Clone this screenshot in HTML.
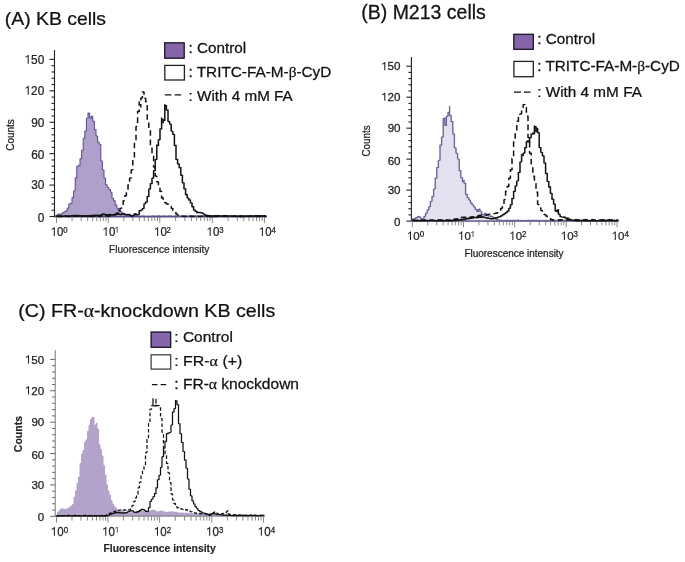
<!DOCTYPE html>
<html><head><meta charset="utf-8"><title>Figure</title><style>
html,body{margin:0;padding:0;background:#fff;}
svg{display:block;will-change:transform;}
text{font-family:"Liberation Sans",sans-serif;}
</style></head><body>
<svg width="685" height="562" viewBox="0 0 685 562">
<rect width="685" height="562" fill="#fff"/>
<text transform="translate(4.79,24.7) scale(1.0150,1)" font-size="19.1" fill="#111" stroke="#111" stroke-width="0.25" >(A) KB cells</text>
<line x1="54.5" y1="50.1" x2="54.5" y2="217" stroke="#222" stroke-width="1.1"/>
<line x1="49.5" y1="216.5" x2="54.5" y2="216.5" stroke="#222" stroke-width="1.1"/>
<text transform="translate(37.64,221.7) scale(0.9550,1)" font-size="12.4" fill="#222" stroke="#222" stroke-width="0.25" >0</text>
<line x1="51.5" y1="210.22" x2="54.5" y2="210.22" stroke="#222" stroke-width="1.1"/>
<line x1="51.5" y1="203.93" x2="54.5" y2="203.93" stroke="#222" stroke-width="1.1"/>
<line x1="51.5" y1="197.65" x2="54.5" y2="197.65" stroke="#222" stroke-width="1.1"/>
<line x1="51.5" y1="191.36" x2="54.5" y2="191.36" stroke="#222" stroke-width="1.1"/>
<line x1="49.5" y1="185.08" x2="54.5" y2="185.08" stroke="#222" stroke-width="1.1"/>
<text transform="translate(31.13,189.48) scale(0.9550,1)" font-size="12.4" fill="#222" stroke="#222" stroke-width="0.25" >30</text>
<line x1="51.5" y1="178.8" x2="54.5" y2="178.8" stroke="#222" stroke-width="1.1"/>
<line x1="51.5" y1="172.51" x2="54.5" y2="172.51" stroke="#222" stroke-width="1.1"/>
<line x1="51.5" y1="166.23" x2="54.5" y2="166.23" stroke="#222" stroke-width="1.1"/>
<line x1="51.5" y1="159.94" x2="54.5" y2="159.94" stroke="#222" stroke-width="1.1"/>
<line x1="49.5" y1="153.66" x2="54.5" y2="153.66" stroke="#222" stroke-width="1.1"/>
<text transform="translate(31.13,159.46) scale(0.9550,1)" font-size="12.4" fill="#222" stroke="#222" stroke-width="0.25" >60</text>
<line x1="51.5" y1="147.38" x2="54.5" y2="147.38" stroke="#222" stroke-width="1.1"/>
<line x1="51.5" y1="141.09" x2="54.5" y2="141.09" stroke="#222" stroke-width="1.1"/>
<line x1="51.5" y1="134.81" x2="54.5" y2="134.81" stroke="#222" stroke-width="1.1"/>
<line x1="51.5" y1="128.52" x2="54.5" y2="128.52" stroke="#222" stroke-width="1.1"/>
<line x1="49.5" y1="122.24" x2="54.5" y2="122.24" stroke="#222" stroke-width="1.1"/>
<text transform="translate(31.13,126.64) scale(0.9550,1)" font-size="12.4" fill="#222" stroke="#222" stroke-width="0.25" >90</text>
<line x1="51.5" y1="115.96" x2="54.5" y2="115.96" stroke="#222" stroke-width="1.1"/>
<line x1="51.5" y1="109.67" x2="54.5" y2="109.67" stroke="#222" stroke-width="1.1"/>
<line x1="51.5" y1="103.39" x2="54.5" y2="103.39" stroke="#222" stroke-width="1.1"/>
<line x1="51.5" y1="97.1" x2="54.5" y2="97.1" stroke="#222" stroke-width="1.1"/>
<line x1="49.5" y1="90.82" x2="54.5" y2="90.82" stroke="#222" stroke-width="1.1"/>
<polygon points="27.65,94.82 28.74,94.82 28.74,85.94 27.93,85.94 27.34,86.58 26.51,87.2 25.5,87.69 25.5,88.81 26.51,88.37 27.65,87.63" fill="#222"/><text transform="translate(31.08,94.82) scale(0.9550,1)" font-size="12.4" fill="#222" stroke="#222" stroke-width="0.25">2</text><text transform="translate(37.67,94.82) scale(0.9550,1)" font-size="12.4" fill="#222" stroke="#222" stroke-width="0.25">0</text>
<line x1="51.5" y1="84.54" x2="54.5" y2="84.54" stroke="#222" stroke-width="1.1"/>
<line x1="51.5" y1="78.25" x2="54.5" y2="78.25" stroke="#222" stroke-width="1.1"/>
<line x1="51.5" y1="71.97" x2="54.5" y2="71.97" stroke="#222" stroke-width="1.1"/>
<line x1="51.5" y1="65.68" x2="54.5" y2="65.68" stroke="#222" stroke-width="1.1"/>
<line x1="49.5" y1="59.4" x2="54.5" y2="59.4" stroke="#222" stroke-width="1.1"/>
<polygon points="27.65,63.8 28.74,63.8 28.74,54.92 27.93,54.92 27.34,55.56 26.51,56.18 25.5,56.67 25.5,57.79 26.51,57.35 27.65,56.61" fill="#222"/><text transform="translate(31.08,63.8) scale(0.9550,1)" font-size="12.4" fill="#222" stroke="#222" stroke-width="0.25">5</text><text transform="translate(37.67,63.8) scale(0.9550,1)" font-size="12.4" fill="#222" stroke="#222" stroke-width="0.25">0</text>
<line x1="54" y1="216.6" x2="267" y2="216.6" stroke="#222" stroke-width="1.1"/>
<line x1="56.5" y1="216.6" x2="56.5" y2="223.1" stroke="#8a8a8a" stroke-width="1"/>
<polygon points="53.76,235.9 54.81,235.9 54.81,227.16 54.03,227.16 53.46,227.79 52.66,228.4 51.68,228.89 51.68,229.98 52.66,229.56 53.76,228.82" fill="#222"/><text transform="translate(57.08,235.9) scale(0.9400,1)" font-size="12.2" fill="#222" stroke="#222" stroke-width="0.25">0</text>
<text transform="translate(63.27,232.66) scale(0.9400,1)" font-size="8.2" fill="#222" stroke="#222" stroke-width="0.25" >0</text>
<line x1="72.09" y1="216.6" x2="72.09" y2="221.1" stroke="#8a8a8a" stroke-width="1"/>
<line x1="81.21" y1="216.6" x2="81.21" y2="221.1" stroke="#8a8a8a" stroke-width="1"/>
<line x1="87.69" y1="216.6" x2="87.69" y2="221.1" stroke="#8a8a8a" stroke-width="1"/>
<line x1="92.71" y1="216.6" x2="92.71" y2="221.1" stroke="#8a8a8a" stroke-width="1"/>
<line x1="96.81" y1="216.6" x2="96.81" y2="221.1" stroke="#8a8a8a" stroke-width="1"/>
<line x1="100.28" y1="216.6" x2="100.28" y2="221.1" stroke="#8a8a8a" stroke-width="1"/>
<line x1="103.28" y1="216.6" x2="103.28" y2="221.1" stroke="#8a8a8a" stroke-width="1"/>
<line x1="105.93" y1="216.6" x2="105.93" y2="221.1" stroke="#8a8a8a" stroke-width="1"/>
<line x1="108.3" y1="216.6" x2="108.3" y2="223.1" stroke="#8a8a8a" stroke-width="1"/>
<polygon points="105.56,235.9 106.61,235.9 106.61,227.16 105.83,227.16 105.26,227.79 104.46,228.4 103.48,228.89 103.48,229.98 104.46,229.56 105.56,228.82" fill="#222"/><text transform="translate(108.88,235.9) scale(0.9400,1)" font-size="12.2" fill="#222" stroke="#222" stroke-width="0.25">0</text>
<polygon points="116.81,232.66 117.52,232.66 117.52,226.79 117,226.79 116.61,227.21 116.07,227.62 115.42,227.94 115.42,228.68 116.07,228.4 116.81,227.9" fill="#222"/>
<line x1="123.8" y1="216.6" x2="123.8" y2="221.1" stroke="#8a8a8a" stroke-width="1"/>
<line x1="132.87" y1="216.6" x2="132.87" y2="221.1" stroke="#8a8a8a" stroke-width="1"/>
<line x1="139.31" y1="216.6" x2="139.31" y2="221.1" stroke="#8a8a8a" stroke-width="1"/>
<line x1="144.3" y1="216.6" x2="144.3" y2="221.1" stroke="#8a8a8a" stroke-width="1"/>
<line x1="148.37" y1="216.6" x2="148.37" y2="221.1" stroke="#8a8a8a" stroke-width="1"/>
<line x1="151.82" y1="216.6" x2="151.82" y2="221.1" stroke="#8a8a8a" stroke-width="1"/>
<line x1="154.81" y1="216.6" x2="154.81" y2="221.1" stroke="#8a8a8a" stroke-width="1"/>
<line x1="157.44" y1="216.6" x2="157.44" y2="221.1" stroke="#8a8a8a" stroke-width="1"/>
<line x1="159.8" y1="216.6" x2="159.8" y2="223.1" stroke="#8a8a8a" stroke-width="1"/>
<polygon points="157.06,235.9 158.11,235.9 158.11,227.16 157.33,227.16 156.76,227.79 155.96,228.4 154.98,228.89 154.98,229.98 155.96,229.56 157.06,228.82" fill="#222"/><text transform="translate(160.38,235.9) scale(0.9400,1)" font-size="12.2" fill="#222" stroke="#222" stroke-width="0.25">0</text>
<text transform="translate(166.49,232.66) scale(0.9400,1)" font-size="8.2" fill="#222" stroke="#222" stroke-width="0.25" >2</text>
<line x1="175.63" y1="216.6" x2="175.63" y2="221.1" stroke="#8a8a8a" stroke-width="1"/>
<line x1="184.9" y1="216.6" x2="184.9" y2="221.1" stroke="#8a8a8a" stroke-width="1"/>
<line x1="191.47" y1="216.6" x2="191.47" y2="221.1" stroke="#8a8a8a" stroke-width="1"/>
<line x1="196.57" y1="216.6" x2="196.57" y2="221.1" stroke="#8a8a8a" stroke-width="1"/>
<line x1="200.73" y1="216.6" x2="200.73" y2="221.1" stroke="#8a8a8a" stroke-width="1"/>
<line x1="204.25" y1="216.6" x2="204.25" y2="221.1" stroke="#8a8a8a" stroke-width="1"/>
<line x1="207.3" y1="216.6" x2="207.3" y2="221.1" stroke="#8a8a8a" stroke-width="1"/>
<line x1="209.99" y1="216.6" x2="209.99" y2="221.1" stroke="#8a8a8a" stroke-width="1"/>
<line x1="212.4" y1="216.6" x2="212.4" y2="223.1" stroke="#8a8a8a" stroke-width="1"/>
<polygon points="209.66,235.9 210.71,235.9 210.71,227.16 209.93,227.16 209.36,227.79 208.56,228.4 207.58,228.89 207.58,229.98 208.56,229.56 209.66,228.82" fill="#222"/><text transform="translate(212.98,235.9) scale(0.9400,1)" font-size="12.2" fill="#222" stroke="#222" stroke-width="0.25">0</text>
<text transform="translate(219.17,232.66) scale(0.9400,1)" font-size="8.2" fill="#222" stroke="#222" stroke-width="0.25" >3</text>
<line x1="228.11" y1="216.6" x2="228.11" y2="221.1" stroke="#8a8a8a" stroke-width="1"/>
<line x1="237.31" y1="216.6" x2="237.31" y2="221.1" stroke="#8a8a8a" stroke-width="1"/>
<line x1="243.83" y1="216.6" x2="243.83" y2="221.1" stroke="#8a8a8a" stroke-width="1"/>
<line x1="248.89" y1="216.6" x2="248.89" y2="221.1" stroke="#8a8a8a" stroke-width="1"/>
<line x1="253.02" y1="216.6" x2="253.02" y2="221.1" stroke="#8a8a8a" stroke-width="1"/>
<line x1="256.51" y1="216.6" x2="256.51" y2="221.1" stroke="#8a8a8a" stroke-width="1"/>
<line x1="259.54" y1="216.6" x2="259.54" y2="221.1" stroke="#8a8a8a" stroke-width="1"/>
<line x1="262.21" y1="216.6" x2="262.21" y2="221.1" stroke="#8a8a8a" stroke-width="1"/>
<line x1="264.6" y1="216.6" x2="264.6" y2="223.1" stroke="#8a8a8a" stroke-width="1"/>
<polygon points="261.86,235.9 262.91,235.9 262.91,227.16 262.13,227.16 261.56,227.79 260.76,228.4 259.78,228.89 259.78,229.98 260.76,229.56 261.86,228.82" fill="#222"/><text transform="translate(265.18,235.9) scale(0.9400,1)" font-size="12.2" fill="#222" stroke="#222" stroke-width="0.25">0</text>
<text transform="translate(271.52,232.66) scale(0.9400,1)" font-size="8.2" fill="#222" stroke="#222" stroke-width="0.25" >4</text>
<path d="M55.5,216.24 L56,215.35 L57.6,215.03 L57.6,214.33 L59.2,213.92 L59.2,214.67 L60.8,215.06 L60.8,214.04 L62.4,213.8 L62.4,212.96 L64,212.48 L64,212.52 L64,212.3 L65.6,211.59 L65.6,211.04 L67.2,210.82 L67.2,208.37 L68.8,207.77 L68.8,204.3 L70.4,203.77 L70.4,203.2 L72,202.98 L72,197.9 L73.6,197.34 L73.6,191 L75.2,190.66 L75.2,178.13 L76.8,177.59 L76.8,166.42 L78.4,165.96 L78.4,164.8 L78.4,165.53 L80,165.69 L80,158.93 L81.6,158.48 L81.6,150.35 L83.2,150.02 L83.2,138.6 L84.8,138.08 L84.8,131.15 L86.4,130.74 L86.4,118.33 L88,117.9 L88,113 L89.6,113.24 L89.6,117.8 L91.2,118.5 L91.2,118.9 L91.2,116.2 L92.8,116.25 L92.8,116.2 L92.8,120.99 L94.4,121.41 L94.4,129.54 L96,129.79 L96,135.45 L97.6,136.22 L97.6,141.83 L99.2,142.35 L99.2,143.97 L100.8,144.63 L100.8,160.52 L102.4,161.29 L102.4,169.6 L104,170.26 L104,177.61 L105.6,178.4 L105.6,184.5 L107.2,184.97 L107.2,186.98 L108.8,187.6 L108.8,189.17 L110.4,189.57 L110.4,191.78 L112,192.48 L112,197.87 L113.6,198.63 L113.6,200.6 L115.2,200.88 L115.2,204.83 L116.8,205.15 L116.8,208 L118.4,208.2 L118.4,209.83 L120,210.48 L120,211.25 L121.6,211.56 L121.6,212.58 L123.2,212.93 L123.2,213.4 L124.8,213.51 L124.8,214.09 L126.4,214.32 L126.4,215 L128,215.01 L128,215.25 L129.6,215.24 L129.6,215.5 L131.2,215.58 L131.2,215.55 L131.2,215.58 L132.8,215.66 L132.8,215.63 L132.8,215.66 L134.4,215.93 L134.4,215.71 L134.4,215.74 L136,215.87 L136,215.79 L136,215.82 L137.6,216.1 L137.6,215.87 L137.6,215.89 L139.2,216.13 L139.2,215.95 L139.2,215.97 L140.8,216.29 L140.8,216 L140.8,216 L142.4,216.11 L142.4,216 L142.4,216 L144,215.8 L144,216.01 L145.6,216.22 L145.6,216.01 L145.6,216.01 L147.2,216.29 L147.2,216.01 L147.2,216.01 L148.8,216.26 L148.8,216.01 L148.8,216.02 L150.4,216.06 L150.4,216.02 L150.4,216.02 L152,216.15 L152,216.02 L152,216.02 L153.6,215.85 L153.6,216.02 L155.2,216.22 L155.2,216.02 L155.2,216.02 L156.8,216.07 L156.8,216.03 L156.8,216.03 L158.4,215.9 L158.4,216.03 L160,215.77 L160,216.03 L161.6,216.25 L161.6,216.03 L161.6,216.03 L163.2,216.33 L163.2,216.04 L163.2,216.04 L164.8,215.79 L164.8,216.04 L166.4,216.22 L166.4,216.04 L166.4,216.04 L168,215.99 L168,216.05 L169.6,215.84 L169.6,216.05 L171.2,215.92 L171.2,216.05 L172.8,216.21 L172.8,216.05 L172.8,216.05 L174.4,216.28 L174.4,216.05 L174.4,216.06 L176,215.78 L176,216.06 L177.6,216.13 L177.6,216.06 L177.6,216.06 L179.2,215.79 L179.2,216.06 L180.8,216.2 L180.8,216.07 L180.8,216.07 L182.4,215.97 L182.4,216.07 L184,216.3 L184,216.07 L184,216.07 L185.6,216.36 L185.6,216.07 L185.6,216.07 L187.2,216.08 L187.2,216.07 L187.2,216.08 L188.8,216.38 L188.8,216.08 L188.8,216.08 L190.4,215.97 L190.4,216.08 L192,215.83 L192,216.08 L193.6,216.14 L193.6,216.08 L193.6,216.09 L195.2,215.81 L195.2,216.09 L196.8,215.91 L196.8,216.09 L198.4,216.04 L198.4,216.09 L200,216.16 L200,216.1 L200,216.1 L201.6,215.89 L201.6,216.1 L203.2,215.82 L203.2,216.1 L204.8,216.32 L204.8,216.1 L204.8,216.1 L206.4,215.99 L206.4,216.11 L208,216.38 L208,216.11 L208,216.11 L209.6,216.35 L209.6,216.11 L209.6,216.11 L211.2,216.04 L211.2,216.11 L212.8,216.09 L212.8,216.12 L214.4,216.13 L214.4,216.12 L214.4,216.12 L216,216.21 L216,216.12 L216,216.12 L217.6,216.18 L217.6,216.12 L217.6,216.12 L219.2,216.16 L219.2,216.13 L219.2,216.13 L220.8,216.2 L220.8,216.13 L220.8,216.13 L222.4,216.39 L222.4,216.13 L222.4,216.13 L224,216.14 L224,216.13 L224,216.13 L225.6,216.09 L225.6,216.14 L227.2,216.27 L227.2,216.14 L227.2,216.14 L228.8,215.98 L228.8,216.14 L230.4,216.02 L230.4,216.14 L232,216.4 L232,216.15 L232,216.15 L233.6,216.16 L233.6,216.15 L233.6,216.15 L235.2,216.18 L235.2,216.15 L235.2,216.15 L236.8,215.86 L236.8,216.15 L238.4,216.1 L238.4,216.16 L240,216.21 L240,216.16 L240,216.16 L241.6,215.87 L241.6,216.16 L243.2,216.23 L243.2,216.16 L243.2,216.17 L244.8,216.25 L244.8,216.17 L244.8,216.17 L246.4,215.9 L246.4,216.17 L248,216.25 L248,216.17 L248,216.17 L249.6,216.15 L249.6,216.17 L251.2,216.28 L251.2,216.18 L251.2,216.18 L252.8,216.09 L252.8,216.18 L254.4,216.31 L254.4,216.18 L254.4,216.18 L256,216.33 L256,216.18 L256,216.18 L257.6,215.9 L257.6,216.19 L259.2,215.92 L259.2,216.19 L260.8,216.3 L260.8,216.19 L260.8,216.19 L262.4,216.4 L262.4,216.19 L262.4,216.2 L264,216.05 L264,216.2 L265.6,216.17 L266,216.2 L266,216.6 L55.5,216.6 Z" fill="#ae9fcb" stroke="#5c4a90" stroke-width="1.05"/>
<path d="M56.5,216.37 L57.6,216.44 L57.6,216.3 L59.2,216.47 L59.2,216.29 L60.8,216.56 L60.8,216.29 L62.4,216.43 L62.4,216.29 L64,216.54 L64,216.28 L65.6,216 L65.6,216.28 L65.6,216.28 L67.2,216.26 L67.2,216.28 L67.2,216.27 L68.8,216.54 L68.8,216.27 L70.4,216.36 L70.4,216.27 L72,216.51 L72,216.26 L73.6,216.03 L73.6,216.26 L73.6,216.26 L75.2,216.24 L75.2,216.26 L75.2,216.26 L76.8,216.1 L76.8,216.25 L76.8,216.25 L78.4,216.28 L78.4,216.25 L80,216.29 L80,216.24 L81.6,215.95 L81.6,216.24 L81.6,216.24 L83.2,216.07 L83.2,216.24 L83.2,216.24 L84.8,216.1 L84.8,216.23 L84.8,216.23 L86.4,216.48 L86.4,216.23 L88,216.39 L88,216.23 L89.6,216.02 L89.6,216.22 L89.6,216.22 L91.2,216.4 L91.2,216.22 L92.8,216 L92.8,216.22 L92.8,216.21 L94.4,216.28 L94.4,216.21 L96,215.99 L96,216.21 L96,216.21 L97.6,215.91 L97.6,216.21 L97.6,216.2 L99.2,216.43 L99.2,216.2 L100.8,216.01 L100.8,216.16 L100.8,216.14 L102.4,215.95 L102.4,216.1 L102.4,216.08 L104,216.35 L104,216.02 L105.6,216.22 L105.6,215.96 L107.2,215.81 L107.2,215.92 L107.2,215.9 L108.8,216.16 L108.8,215.82 L110.4,215.82 L110.4,215.57 L112,215.56 L112,215.22 L113.6,214.92 L113.6,214.98 L113.6,214.87 L115.2,215.01 L115.2,214.52 L116.8,214.51 L116.8,212.72 L118.4,212.58 L118.4,210.66 L120,210.48 L120,208.6 L121.6,208.01 L121.6,204.87 L123.2,204.32 L123.2,201.1 L124.8,200.4 L124.8,196.1 L126.4,195.39 L126.4,191.1 L128,190.34 L128,185.11 L129.6,184.51 L129.6,178.29 L131.2,177.86 L131.2,170.31 L132.8,169.5 L132.8,159.56 L134.4,159.15 L134.4,140.25 L136,139.64 L136,126.65 L137.6,126 L137.6,111.63 L139.2,111.29 L139.2,101.5 L139.2,101.99 L140.8,102.47 L140.8,107.4 L140.8,98.37 L142.4,97.72 L142.4,92.13 L144,91.76 L144,91.4 L144,98.05 L145.6,98.42 L145.6,101.53 L147.2,101.79 L147.2,120.2 L148.8,121.04 L148.8,128.23 L150.4,128.47 L150.4,144.8 L152,145.48 L152,153.4 L153.6,154.11 L153.6,166.86 L155.2,167.08 L155.2,175.81 L156.8,176.47 L156.8,181.6 L158.4,182 L158.4,186.04 L160,186.6 L160,191.27 L161.6,191.51 L161.6,197.84 L163.2,198.03 L163.2,200.6 L164.8,200.76 L164.8,202.38 L166.4,203.01 L166.4,203.8 L168,203.94 L168,205.09 L169.6,205.56 L169.6,206.06 L171.2,206.64 L171.2,208.02 L172.8,208.73 L172.8,210.22 L174.4,210.57 L174.4,212.3 L176,212.61 L176,213.9 L177.6,214.31 L177.6,215.07 L179.2,215.42 L179.2,215.63 L180.8,215.58 L180.8,216.02 L182.4,216.18 L182.4,216.05 L182.4,216.07 L184,216.26 L184,216.1 L184,216.12 L185.6,216.35 L185.6,216.15 L185.6,216.17 L187.2,215.91 L187.2,216.22 L188.8,216.5 L188.8,216.25 L188.8,216.28 L190.4,216.05 L190.4,216.3 L192,216.2 L192,216.3 L193.6,216.37 L193.6,216.3 L195.2,216.55 L195.2,216.3 L196.8,216.2 L196.8,216.3 L198.4,216.55 L198.4,216.3 L200,216.33 L200,216.3 L201.6,216.19 L201.6,216.3 L203.2,216.19 L203.2,216.3 L204.8,216.11 L204.8,216.3 L206.4,216.05 L206.4,216.3 L208,216.09 L208,216.3 L209.6,216.41 L209.6,216.3 L211.2,216.6 L211.2,216.3 L212.8,216.1 L212.8,216.3 L214.4,216.03 L214.4,216.3 L216,216.59 L216,216.3 L217.6,216.32 L217.6,216.3 L219.2,216.24 L219.2,216.3 L220.8,216.14 L220.8,216.3 L222.4,216.36 L222.4,216.3 L224,216.5 L224,216.3 L225.6,216.27 L225.6,216.3 L227.2,216.25 L227.2,216.3 L228.8,216.03 L228.8,216.3 L230.4,216.55 L230.4,216.3 L232,216.02 L232,216.3 L233.6,216.3 L233.6,216.3 L235.2,216.5 L235.2,216.3 L236.8,216.08 L236.8,216.3 L238.4,216.44 L238.4,216.3 L240,216.57 L240,216.3 L241.6,216.38 L241.6,216.3 L243.2,216.47 L243.2,216.3 L244.8,216.06 L244.8,216.3 L246.4,216.26 L246.4,216.3 L248,216.09 L248,216.3 L249.6,216.51 L249.6,216.3 L251.2,216.18 L251.2,216.3 L252.8,216.27 L252.8,216.3 L254.4,216.6 L254.4,216.3 L256,216.51 L256,216.3 L257.6,216.59 L257.6,216.3 L259.2,216.27 L259.2,216.3 L260.8,216.29 L260.8,216.3 L262.4,216.44 L262.4,216.3 L264,216.29 L264,216.3 L265.6,216.17 L266,216.3" fill="none" stroke="#111" stroke-width="1.5" stroke-dasharray="5.6,3.6"/>
<path d="M56.5,216.09 L57.6,215.99 L57.6,216.2 L59.2,216.29 L59.2,216.2 L60.8,215.94 L60.8,216.2 L62.4,216.22 L62.4,216.2 L64,216.12 L64,216.2 L65.6,215.93 L65.6,216.2 L67.2,216.2 L67.2,216.2 L68.8,215.92 L68.8,216.2 L70.4,216.16 L70.4,216.07 L72,215.74 L72,215.93 L72,215.87 L73.6,215.55 L73.6,215.73 L73.6,215.67 L75.2,215.55 L75.2,215.47 L76.8,215.6 L76.8,215.47 L76.8,215.62 L78.4,215.47 L78.4,215.85 L80,215.76 L80,216 L80,215.99 L81.6,216.06 L81.6,215.96 L83.2,216.22 L83.2,215.92 L84.8,215.96 L84.8,215.89 L86.4,215.82 L86.4,215.87 L86.4,215.86 L88,216.14 L88,215.83 L89.6,215.55 L89.6,215.81 L89.6,215.8 L91.2,216 L91.2,215.75 L92.8,215.61 L92.8,215.73 L92.8,215.69 L94.4,215.47 L94.4,215.67 L94.4,215.65 L96,215.41 L96,215.62 L96,215.61 L97.6,215.48 L97.6,215.57 L97.6,215.56 L99.2,215.73 L99.2,215.5 L100.8,215.08 L100.8,214.81 L102.4,214.63 L102.4,214.13 L104,213.98 L104,214.34 L105.6,214.48 L105.6,215 L107.2,215.03 L107.2,215 L108.8,214.74 L108.8,215 L110.4,214.74 L110.4,215 L112,214.82 L112,215 L112,214.9 L113.6,214.91 L113.6,214.6 L115.2,214.46 L115.2,214.17 L116.8,213.82 L116.8,213.23 L118.4,213.05 L118.4,214.08 L120,214.41 L120,214.8 L120,214.67 L121.6,214.42 L121.6,214.29 L123.2,214.33 L123.2,213.9 L124.8,214.24 L124.8,214.58 L126.4,214.65 L126.4,214.73 L126.4,214.67 L128,214.64 L128,214.47 L129.6,214.42 L129.6,215.03 L131.2,215.58 L131.2,216.3 L132.8,216.17 L132.8,215.5 L134.4,214.97 L134.4,213.9 L136,213.79 L136,214.7 L137.6,214.87 L137.6,214.9 L137.6,214.7 L139.2,214.15 L139.2,210.7 L140.8,210.75 L140.8,210.3 L142.4,209.69 L142.4,208.7 L144,208.18 L144,204.1 L145.6,203.32 L145.6,202.2 L147.2,201.9 L147.2,196.6 L148.8,196.27 L148.8,189.24 L150.4,188.8 L150.4,183.8 L152,183.49 L152,178.45 L153.6,177.8 L153.6,170.9 L155.2,170.49 L155.2,159.73 L156.8,159.26 L156.8,145.3 L158.4,145.18 L158.4,140 L160,139.4 L160,129.13 L161.6,128.8 L161.6,117.4 L161.6,119.01 L163.2,119.81 L163.2,123.3 L163.2,120.8 L164.8,120.28 L164.8,105.1 L166.4,105.73 L166.4,109.96 L168,110.22 L168,121.13 L169.6,121.79 L169.6,123.83 L171.2,124.45 L171.2,130.8 L172.8,131.63 L172.8,134 L174.4,134.73 L174.4,145.3 L176,145.67 L176,159.2 L177.6,159.66 L177.6,163.77 L179.2,164.33 L179.2,167.58 L180.8,167.78 L180.8,175.03 L182.4,175.52 L182.4,182.7 L184,183 L184,188.7 L185.6,188.96 L185.6,194.54 L187.2,194.76 L187.2,197.71 L188.8,198.3 L188.8,199.85 L190.4,200.05 L190.4,202.7 L192,203.05 L192,206.54 L193.6,206.93 L193.6,209.69 L195.2,210.3 L195.2,211.24 L196.8,211.37 L196.8,212.43 L198.4,212.43 L198.4,212.52 L200,212.58 L200,212.61 L201.6,212.87 L201.6,212.67 L201.6,212.7 L203.2,213.04 L203.2,213 L203.2,213.77 L204.8,214.37 L204.8,215.3 L206.4,215.24 L206.4,215.53 L208,215.56 L208,215.77 L209.6,215.76 L209.6,216 L211.2,216.23 L211.2,216 L211.2,216 L212.8,216.28 L212.8,216.01 L212.8,216.01 L214.4,215.8 L214.4,216.01 L216,215.82 L216,216.01 L217.6,215.85 L217.6,216.01 L219.2,215.86 L219.2,216.02 L220.8,216.01 L220.8,216.02 L222.4,216.07 L222.4,216.02 L222.4,216.02 L224,215.88 L224,216.03 L225.6,215.73 L225.6,216.03 L227.2,215.98 L227.2,216.03 L228.8,215.95 L228.8,216.03 L230.4,216.08 L230.4,216.04 L230.4,216.04 L232,216.31 L232,216.04 L232,216.04 L233.6,216.16 L233.6,216.04 L233.6,216.04 L235.2,216.05 L235.2,216.04 L235.2,216.05 L236.8,216.12 L236.8,216.05 L236.8,216.05 L238.4,216.16 L238.4,216.05 L238.4,216.05 L240,215.79 L240,216.05 L241.6,216.3 L241.6,216.06 L241.6,216.06 L243.2,216.23 L243.2,216.06 L243.2,216.06 L244.8,216.29 L244.8,216.06 L244.8,216.06 L246.4,216.24 L246.4,216.07 L246.4,216.07 L248,216 L248,216.07 L249.6,216.01 L249.6,216.07 L251.2,215.83 L251.2,216.07 L252.8,216.16 L252.8,216.08 L252.8,216.08 L254.4,215.82 L254.4,216.08 L256,215.82 L256,216.08 L257.6,215.91 L257.6,216.09 L259.2,215.88 L259.2,216.09 L260.8,215.99 L260.8,216.09 L262.4,215.82 L262.4,216.09 L264,215.8 L264,216.1 L265.6,215.89 L266,216.1" fill="none" stroke="#111" stroke-width="1.5"/>
<rect x="164.7" y="42.8" width="19.5" height="15.4" fill="#8466a8" stroke="#150d20" stroke-width="1.25"/>
<rect x="164.8" y="65.4" width="19.6" height="14.6" fill="#fff" stroke="#222" stroke-width="1.3"/>
<line x1="164.9" y1="94.9" x2="181.3" y2="94.9" stroke="#111" stroke-width="1.3" stroke-dasharray="6.5,3.3"/>
<text transform="translate(188.53,52.9) scale(0.9984,1)" font-size="15.3" fill="#111" stroke="#111" stroke-width="0.25" >: Control</text>
<text transform="translate(188.52,76.8) scale(1.0025,1)" font-size="15.3" fill="#111" stroke="#111" stroke-width="0.25" >: TRITC-FA-M-<tspan font-family="Liberation Serif">β</tspan>-CyD</text>
<text transform="translate(188.53,100.5) scale(0.9978,1)" font-size="15.3" fill="#111" stroke="#111" stroke-width="0.25" >: With 4 mM FA</text>
<text transform="translate(13.5,150.8) rotate(-90) scale(0.9346,1)" font-size="10.7" fill="#222" stroke="#222" stroke-width="0.25">Counts</text>
<text transform="translate(109.09,252.8) scale(0.9174,1)" font-size="11" fill="#222" stroke="#222" stroke-width="0.25" >Fluorescence intensity</text>
<text transform="translate(361.23,19) scale(1.0107,1)" font-size="19.3" fill="#111" stroke="#111" stroke-width="0.25" >(B) M213 cells</text>
<line x1="411.4" y1="56.9" x2="411.4" y2="221.6" stroke="#222" stroke-width="1.1"/>
<line x1="406.4" y1="221.1" x2="411.4" y2="221.1" stroke="#222" stroke-width="1.1"/>
<text transform="translate(394.05,225.95) scale(1.0200,1)" font-size="11.4" fill="#222" stroke="#222" stroke-width="0.25" >0</text>
<line x1="408.4" y1="214.9" x2="411.4" y2="214.9" stroke="#222" stroke-width="1.1"/>
<line x1="408.4" y1="208.71" x2="411.4" y2="208.71" stroke="#222" stroke-width="1.1"/>
<line x1="408.4" y1="202.51" x2="411.4" y2="202.51" stroke="#222" stroke-width="1.1"/>
<line x1="408.4" y1="196.32" x2="411.4" y2="196.32" stroke="#222" stroke-width="1.1"/>
<line x1="406.4" y1="190.12" x2="411.4" y2="190.12" stroke="#222" stroke-width="1.1"/>
<text transform="translate(387.66,194.17) scale(1.0200,1)" font-size="11.4" fill="#222" stroke="#222" stroke-width="0.25" >30</text>
<line x1="408.4" y1="183.92" x2="411.4" y2="183.92" stroke="#222" stroke-width="1.1"/>
<line x1="408.4" y1="177.73" x2="411.4" y2="177.73" stroke="#222" stroke-width="1.1"/>
<line x1="408.4" y1="171.53" x2="411.4" y2="171.53" stroke="#222" stroke-width="1.1"/>
<line x1="408.4" y1="165.34" x2="411.4" y2="165.34" stroke="#222" stroke-width="1.1"/>
<line x1="406.4" y1="159.14" x2="411.4" y2="159.14" stroke="#222" stroke-width="1.1"/>
<text transform="translate(387.66,164.59) scale(1.0200,1)" font-size="11.4" fill="#222" stroke="#222" stroke-width="0.25" >60</text>
<line x1="408.4" y1="152.94" x2="411.4" y2="152.94" stroke="#222" stroke-width="1.1"/>
<line x1="408.4" y1="146.75" x2="411.4" y2="146.75" stroke="#222" stroke-width="1.1"/>
<line x1="408.4" y1="140.55" x2="411.4" y2="140.55" stroke="#222" stroke-width="1.1"/>
<line x1="408.4" y1="134.36" x2="411.4" y2="134.36" stroke="#222" stroke-width="1.1"/>
<line x1="406.4" y1="128.16" x2="411.4" y2="128.16" stroke="#222" stroke-width="1.1"/>
<text transform="translate(387.66,132.21) scale(1.0200,1)" font-size="11.4" fill="#222" stroke="#222" stroke-width="0.25" >90</text>
<line x1="408.4" y1="121.96" x2="411.4" y2="121.96" stroke="#222" stroke-width="1.1"/>
<line x1="408.4" y1="115.77" x2="411.4" y2="115.77" stroke="#222" stroke-width="1.1"/>
<line x1="408.4" y1="109.57" x2="411.4" y2="109.57" stroke="#222" stroke-width="1.1"/>
<line x1="408.4" y1="103.38" x2="411.4" y2="103.38" stroke="#222" stroke-width="1.1"/>
<line x1="406.4" y1="97.18" x2="411.4" y2="97.18" stroke="#222" stroke-width="1.1"/>
<polygon points="384.24,100.83 385.31,100.83 385.31,92.66 384.52,92.66 383.94,93.25 383.12,93.82 382.13,94.27 382.13,95.3 383.12,94.9 384.24,94.22" fill="#222"/><text transform="translate(387.61,100.83) scale(1.0200,1)" font-size="11.4" fill="#222" stroke="#222" stroke-width="0.25">2</text><text transform="translate(394.08,100.83) scale(1.0200,1)" font-size="11.4" fill="#222" stroke="#222" stroke-width="0.25">0</text>
<line x1="408.4" y1="90.98" x2="411.4" y2="90.98" stroke="#222" stroke-width="1.1"/>
<line x1="408.4" y1="84.79" x2="411.4" y2="84.79" stroke="#222" stroke-width="1.1"/>
<line x1="408.4" y1="78.59" x2="411.4" y2="78.59" stroke="#222" stroke-width="1.1"/>
<line x1="408.4" y1="72.4" x2="411.4" y2="72.4" stroke="#222" stroke-width="1.1"/>
<line x1="406.4" y1="66.2" x2="411.4" y2="66.2" stroke="#222" stroke-width="1.1"/>
<polygon points="384.24,70.25 385.31,70.25 385.31,62.08 384.52,62.08 383.94,62.67 383.12,63.24 382.13,63.69 382.13,64.72 383.12,64.32 384.24,63.63" fill="#222"/><text transform="translate(387.61,70.25) scale(1.0200,1)" font-size="11.4" fill="#222" stroke="#222" stroke-width="0.25">5</text><text transform="translate(394.08,70.25) scale(1.0200,1)" font-size="11.4" fill="#222" stroke="#222" stroke-width="0.25">0</text>
<line x1="410.9" y1="220.8" x2="619" y2="220.8" stroke="#222" stroke-width="1.1"/>
<line x1="412.3" y1="220.8" x2="412.3" y2="227.3" stroke="#8a8a8a" stroke-width="1"/>
<polygon points="409.96,239.9 411.01,239.9 411.01,231.52 410.23,231.52 409.66,232.12 408.86,232.7 407.88,233.17 407.88,234.23 408.86,233.82 409.96,233.11" fill="#222"/><text transform="translate(413.28,239.9) scale(0.9800,1)" font-size="11.7" fill="#222" stroke="#222" stroke-width="0.25">0</text>
<text transform="translate(419.65,237.02) scale(0.9800,1)" font-size="8.2" fill="#222" stroke="#222" stroke-width="0.25" >0</text>
<line x1="427.71" y1="220.8" x2="427.71" y2="225.3" stroke="#8a8a8a" stroke-width="1"/>
<line x1="436.73" y1="220.8" x2="436.73" y2="225.3" stroke="#8a8a8a" stroke-width="1"/>
<line x1="443.13" y1="220.8" x2="443.13" y2="225.3" stroke="#8a8a8a" stroke-width="1"/>
<line x1="448.09" y1="220.8" x2="448.09" y2="225.3" stroke="#8a8a8a" stroke-width="1"/>
<line x1="452.14" y1="220.8" x2="452.14" y2="225.3" stroke="#8a8a8a" stroke-width="1"/>
<line x1="455.57" y1="220.8" x2="455.57" y2="225.3" stroke="#8a8a8a" stroke-width="1"/>
<line x1="458.54" y1="220.8" x2="458.54" y2="225.3" stroke="#8a8a8a" stroke-width="1"/>
<line x1="461.16" y1="220.8" x2="461.16" y2="225.3" stroke="#8a8a8a" stroke-width="1"/>
<line x1="463.5" y1="220.8" x2="463.5" y2="227.3" stroke="#8a8a8a" stroke-width="1"/>
<polygon points="461.16,239.9 462.21,239.9 462.21,231.52 461.43,231.52 460.86,232.12 460.06,232.7 459.08,233.17 459.08,234.23 460.06,233.82 461.16,233.11" fill="#222"/><text transform="translate(464.48,239.9) scale(0.9800,1)" font-size="11.7" fill="#222" stroke="#222" stroke-width="0.25">0</text>
<polygon points="472.67,237.02 473.41,237.02 473.41,231.14 472.86,231.14 472.46,231.56 471.9,231.97 471.22,232.3 471.22,233.04 471.9,232.75 472.67,232.26" fill="#222"/>
<line x1="478.91" y1="220.8" x2="478.91" y2="225.3" stroke="#8a8a8a" stroke-width="1"/>
<line x1="487.93" y1="220.8" x2="487.93" y2="225.3" stroke="#8a8a8a" stroke-width="1"/>
<line x1="494.33" y1="220.8" x2="494.33" y2="225.3" stroke="#8a8a8a" stroke-width="1"/>
<line x1="499.29" y1="220.8" x2="499.29" y2="225.3" stroke="#8a8a8a" stroke-width="1"/>
<line x1="503.34" y1="220.8" x2="503.34" y2="225.3" stroke="#8a8a8a" stroke-width="1"/>
<line x1="506.77" y1="220.8" x2="506.77" y2="225.3" stroke="#8a8a8a" stroke-width="1"/>
<line x1="509.74" y1="220.8" x2="509.74" y2="225.3" stroke="#8a8a8a" stroke-width="1"/>
<line x1="512.36" y1="220.8" x2="512.36" y2="225.3" stroke="#8a8a8a" stroke-width="1"/>
<line x1="514.7" y1="220.8" x2="514.7" y2="227.3" stroke="#8a8a8a" stroke-width="1"/>
<polygon points="512.36,239.9 513.41,239.9 513.41,231.52 512.63,231.52 512.06,232.12 511.26,232.7 510.28,233.17 510.28,234.23 511.26,233.82 512.36,233.11" fill="#222"/><text transform="translate(515.68,239.9) scale(0.9800,1)" font-size="11.7" fill="#222" stroke="#222" stroke-width="0.25">0</text>
<text transform="translate(521.97,237.02) scale(0.9800,1)" font-size="8.2" fill="#222" stroke="#222" stroke-width="0.25" >2</text>
<line x1="530.2" y1="220.8" x2="530.2" y2="225.3" stroke="#8a8a8a" stroke-width="1"/>
<line x1="539.27" y1="220.8" x2="539.27" y2="225.3" stroke="#8a8a8a" stroke-width="1"/>
<line x1="545.71" y1="220.8" x2="545.71" y2="225.3" stroke="#8a8a8a" stroke-width="1"/>
<line x1="550.7" y1="220.8" x2="550.7" y2="225.3" stroke="#8a8a8a" stroke-width="1"/>
<line x1="554.77" y1="220.8" x2="554.77" y2="225.3" stroke="#8a8a8a" stroke-width="1"/>
<line x1="558.22" y1="220.8" x2="558.22" y2="225.3" stroke="#8a8a8a" stroke-width="1"/>
<line x1="561.21" y1="220.8" x2="561.21" y2="225.3" stroke="#8a8a8a" stroke-width="1"/>
<line x1="563.84" y1="220.8" x2="563.84" y2="225.3" stroke="#8a8a8a" stroke-width="1"/>
<line x1="566.2" y1="220.8" x2="566.2" y2="227.3" stroke="#8a8a8a" stroke-width="1"/>
<polygon points="563.86,239.9 564.91,239.9 564.91,231.52 564.13,231.52 563.56,232.12 562.76,232.7 561.78,233.17 561.78,234.23 562.76,233.82 563.86,233.11" fill="#222"/><text transform="translate(567.18,239.9) scale(0.9800,1)" font-size="11.7" fill="#222" stroke="#222" stroke-width="0.25">0</text>
<text transform="translate(573.55,237.02) scale(0.9800,1)" font-size="8.2" fill="#222" stroke="#222" stroke-width="0.25" >3</text>
<line x1="581.52" y1="220.8" x2="581.52" y2="225.3" stroke="#8a8a8a" stroke-width="1"/>
<line x1="590.49" y1="220.8" x2="590.49" y2="225.3" stroke="#8a8a8a" stroke-width="1"/>
<line x1="596.84" y1="220.8" x2="596.84" y2="225.3" stroke="#8a8a8a" stroke-width="1"/>
<line x1="601.78" y1="220.8" x2="601.78" y2="225.3" stroke="#8a8a8a" stroke-width="1"/>
<line x1="605.81" y1="220.8" x2="605.81" y2="225.3" stroke="#8a8a8a" stroke-width="1"/>
<line x1="609.22" y1="220.8" x2="609.22" y2="225.3" stroke="#8a8a8a" stroke-width="1"/>
<line x1="612.17" y1="220.8" x2="612.17" y2="225.3" stroke="#8a8a8a" stroke-width="1"/>
<line x1="614.77" y1="220.8" x2="614.77" y2="225.3" stroke="#8a8a8a" stroke-width="1"/>
<line x1="617.1" y1="220.8" x2="617.1" y2="227.3" stroke="#8a8a8a" stroke-width="1"/>
<polygon points="614.76,239.9 615.81,239.9 615.81,231.52 615.03,231.52 614.46,232.12 613.66,232.7 612.68,233.17 612.68,234.23 613.66,233.82 614.76,233.11" fill="#222"/><text transform="translate(618.08,239.9) scale(0.9800,1)" font-size="11.7" fill="#222" stroke="#222" stroke-width="0.25">0</text>
<text transform="translate(624.61,237.02) scale(0.9800,1)" font-size="8.2" fill="#222" stroke="#222" stroke-width="0.25" >4</text>
<path d="M411.2,221 L411.2,220.73 L412.8,220.3 L412.8,219.28 L414.4,219.27 L414.4,218.5 L416,218.24 L416,217.78 L417.6,217.54 L417.6,216.87 L419.2,216.49 L419.2,216 L419.2,216.95 L420.8,217.24 L420.8,218.66 L422.4,219.05 L422.4,219.8 L422.4,218.97 L424,218.63 L424,216.35 L425.6,216.05 L425.6,213.5 L427.2,212.79 L427.2,210.26 L428.8,209.68 L428.8,207.03 L430.4,206.32 L430.4,201.6 L432,201.29 L432,196.82 L433.6,196.46 L433.6,189.4 L435.2,188.63 L435.2,178.4 L436.8,178.19 L436.8,167.64 L438.4,167.39 L438.4,160.5 L440,160.09 L440,145.34 L441.6,144.87 L441.6,137.4 L443.2,136.69 L443.2,118.61 L444.8,117.81 L444.8,117.6 L444.8,125.1 L446.4,125.62 L446.4,126.1 L446.4,116.53 L448,115.74 L448,111.7 L448,112.8 L449.6,112.08 L449.6,105.9 L449.6,115.43 L451.2,115.81 L451.2,121.3 L452.8,121.55 L452.8,133.65 L454.4,134.18 L454.4,147.53 L456,148.01 L456,152.86 L457.6,153.61 L457.6,158.87 L459.2,159.44 L459.2,170.45 L460.8,171.04 L460.8,177.44 L462.4,177.93 L462.4,181.48 L464,182.1 L464,179.4 L464,183.02 L465.6,183.51 L465.6,194.13 L467.2,194.49 L467.2,197.3 L468.8,198 L468.8,199.6 L470.4,200.4 L470.4,202.6 L472,203.3 L472,204.53 L473.6,205.09 L473.6,206.81 L475.2,207.17 L475.2,209.12 L476.8,209.39 L476.8,211.25 L478.4,211.55 L478.4,212.1 L478.4,209.67 L480,208.93 L480,208.7 L480,211.26 L481.6,211.93 L481.6,214.1 L483.2,214.47 L483.2,215.4 L483.2,215 L484.8,214.81 L484.8,213.4 L486.4,213.73 L486.4,215 L488,215.67 L488,215.54 L488,215.68 L489.6,216.03 L489.6,215.96 L489.6,216.1 L491.2,215.96 L491.2,216.59 L492.8,216.58 L492.8,217.24 L494.4,217.65 L494.4,218 L496,218.28 L496,219.2 L497.6,219.79 L497.6,220.1 L499.2,220.14 L499.2,220.4 L500.8,220.24 L500.8,220.6 L502.4,220.68 L502.4,220.6 L504,220.77 L504,220.6 L505.6,220.46 L505.6,220.6 L507.2,220.35 L507.2,220.6 L508.8,220.5 L508.8,220.6 L510.4,220.88 L510.4,220.6 L512,220.75 L512,220.6 L513.6,220.37 L513.6,220.6 L515.2,220.45 L515.2,220.6 L516.8,220.36 L516.8,220.6 L518.4,220.34 L518.4,220.6 L520,220.78 L520,220.6 L521.6,220.41 L521.6,220.6 L523.2,220.64 L523.2,220.6 L524.8,220.57 L524.8,220.6 L526.4,220.41 L526.4,220.6 L528,220.74 L528,220.6 L529.6,220.38 L529.6,220.6 L531.2,220.69 L531.2,220.6 L532.8,220.37 L532.8,220.6 L534.4,220.55 L534.4,220.6 L536,220.43 L536,220.6 L537.6,220.46 L537.6,220.6 L539.2,220.88 L539.2,220.6 L540.8,220.78 L540.8,220.6 L542.4,220.48 L542.4,220.6 L544,220.83 L544,220.6 L545.6,220.43 L545.6,220.6 L547.2,220.54 L547.2,220.6 L548.8,220.81 L548.8,220.6 L550.4,220.69 L550.4,220.6 L552,220.36 L552,220.6 L553.6,220.89 L553.6,220.6 L555.2,220.43 L555.2,220.6 L556.8,220.45 L556.8,220.6 L558.4,220.76 L558.4,220.6 L560,220.5 L560,220.6 L561.6,220.48 L561.6,220.6 L563.2,220.34 L563.2,220.6 L564.8,220.35 L564.8,220.6 L566.4,220.65 L566.4,220.6 L568,220.45 L568,220.6 L569.6,220.66 L569.6,220.6 L571.2,220.52 L571.2,220.6 L572.8,220.57 L572.8,220.6 L574.4,220.88 L574.4,220.6 L576,220.59 L576,220.6 L577.6,220.64 L577.6,220.6 L579.2,220.82 L579.2,220.6 L580.8,220.41 L580.8,220.6 L582.4,220.39 L582.4,220.6 L584,220.85 L584,220.6 L585.6,220.79 L585.6,220.6 L587.2,220.45 L587.2,220.6 L588.8,220.41 L588.8,220.6 L590.4,220.74 L590.4,220.6 L592,220.86 L592,220.6 L593.6,220.42 L593.6,220.6 L595.2,220.87 L595.2,220.6 L596.8,220.83 L596.8,220.6 L598.4,220.66 L598.4,220.6 L600,220.55 L600,220.6 L601.6,220.36 L601.6,220.6 L603.2,220.32 L603.2,220.6 L604.8,220.88 L604.8,220.6 L606.4,220.44 L606.4,220.6 L608,220.72 L608,220.6 L609.6,220.45 L609.6,220.6 L611.2,220.79 L611.2,220.6 L612.8,220.66 L612.8,220.6 L614.4,220.48 L614.4,220.6 L616,220.41 L616,220.6 L617.6,220.73 L618,220.6 L618,221 L411.2,221 Z" fill="#e4e0f0" stroke="#6a6292" stroke-width="1.35"/>
<path d="M412.3,220.16 L412.8,220.3 L412.8,220.3 L414.4,220.41 L414.4,220.29 L416,220.4 L416,220.29 L417.6,220.49 L417.6,220.28 L419.2,220.09 L419.2,220.27 L419.2,220.27 L420.8,220.11 L420.8,220.27 L420.8,220.27 L422.4,220.05 L422.4,220.26 L422.4,220.26 L424,220.1 L424,220.26 L424,220.26 L425.6,220.39 L425.6,220.25 L427.2,220.03 L427.2,220.25 L427.2,220.24 L428.8,220.26 L428.8,220.24 L430.4,220.06 L430.4,220.23 L430.4,220.23 L432,220.11 L432,220.23 L432,220.23 L433.6,220.18 L433.6,220.22 L433.6,220.22 L435.2,220.42 L435.2,220.21 L436.8,220.28 L436.8,220.21 L438.4,219.92 L438.4,220.21 L438.4,220.2 L440,220.07 L440,220.2 L440,220.19 L441.6,219.98 L441.6,220.19 L441.6,220.18 L443.2,220.4 L443.2,220.16 L444.8,220.35 L444.8,220.14 L446.4,220.32 L446.4,220.13 L448,220.32 L448,220.11 L449.6,220.26 L449.6,220.1 L451.2,220.29 L451.2,219.78 L452.8,219.87 L452.8,219.53 L454.4,219.3 L454.4,219.37 L454.4,219.29 L456,219.42 L456,219.04 L457.6,218.95 L457.6,218.8 L459.2,218.78 L459.2,218.28 L460.8,218.14 L460.8,217.58 L462.4,217.36 L462.4,217.4 L464,217.32 L464,217.4 L465.6,217.36 L465.6,217.4 L467.2,217.29 L467.2,217.4 L467.2,217.35 L468.8,217.08 L468.8,217.26 L468.8,217.22 L470.4,217.36 L470.4,217.08 L472,217.21 L472,216.94 L473.6,217.18 L473.6,216.8 L475.2,216.81 L475.2,216.48 L476.8,216.4 L476.8,216.15 L478.4,216.2 L478.4,215.72 L480,215.4 L480,215.51 L480,215.4 L481.6,215.51 L481.6,215.4 L483.2,215.37 L483.2,215.4 L484.8,215.21 L484.8,215.4 L486.4,215.08 L486.4,215.11 L486.4,214.97 L488,214.84 L488,214.53 L489.6,214.24 L489.6,214.24 L489.6,214.1 L491.2,214.03 L491.2,213.95 L492.8,213.96 L492.8,213.8 L494.4,213.69 L494.4,213.7 L494.4,213.6 L496,213.33 L496,213.5 L496,213.17 L497.6,212.83 L497.6,211.83 L499.2,211.34 L499.2,210.5 L500.8,209.96 L500.8,208.59 L502.4,208.03 L502.4,206.68 L504,206.22 L504,199.94 L505.6,199.17 L505.6,191.28 L507.2,190.89 L507.2,186.48 L508.8,186.27 L508.8,178.5 L510.4,177.93 L510.4,169.93 L512,169.56 L512,158.4 L513.6,158.16 L513.6,141.16 L515.2,140.37 L515.2,131.96 L516.8,131.25 L516.8,121.4 L518.4,121.08 L518.4,116.7 L520,116.5 L520,114.1 L521.6,113.68 L521.6,107.9 L523.2,107.15 L523.2,104.74 L524.8,104.37 L524.8,104.1 L524.8,106.81 L526.4,107.58 L526.4,115.53 L528,116.27 L528,137.3 L529.6,137.98 L529.6,153.08 L531.2,153.42 L531.2,166.97 L532.8,167.68 L532.8,175.9 L534.4,176.32 L534.4,183.2 L536,183.73 L536,192 L537.6,192.3 L537.6,204.03 L539.2,204.85 L539.2,207.43 L540.8,207.96 L540.8,210.14 L542.4,210.69 L542.4,212.24 L544,212.49 L544,214.25 L545.6,214.7 L545.6,215.75 L547.2,216.17 L547.2,217.62 L548.8,218.05 L548.8,218.5 L550.4,218.67 L550.4,219.25 L552,219.64 L552,220 L553.6,219.9 L553.6,220 L555.2,219.88 L555.2,220 L556.8,219.8 L556.8,220 L558.4,220.11 L558.4,220 L560,219.77 L560,220 L561.6,219.84 L561.6,220 L563.2,219.74 L563.2,220 L564.8,220.09 L564.8,220 L566.4,220.03 L566.4,220 L568,220.03 L568,220 L569.6,219.72 L569.6,220 L571.2,219.96 L571.2,220 L572.8,219.91 L572.8,220 L574.4,219.76 L574.4,220 L576,219.7 L576,220 L577.6,220.3 L577.6,220 L579.2,219.77 L579.2,220 L580.8,219.88 L580.8,220 L582.4,219.86 L582.4,220 L584,220.06 L584,220 L585.6,219.75 L585.6,220 L587.2,219.98 L587.2,220 L588.8,219.92 L588.8,220 L590.4,220.2 L590.4,220 L592,219.7 L592,220 L593.6,219.9 L593.6,220 L595.2,220 L595.2,220 L596.8,220.28 L596.8,220 L598.4,220.01 L598.4,220 L600,219.98 L600,220 L601.6,220.1 L601.6,220 L603.2,219.88 L603.2,220 L604.8,219.72 L604.8,220 L606.4,220 L606.4,220 L608,220.25 L608,220 L609.6,220.14 L609.6,220 L611.2,219.85 L611.2,220 L612.8,220.11 L612.8,220 L614.4,220.21 L614.4,220 L616,219.86 L616,220 L617.6,220.05 L618,220" fill="none" stroke="#111" stroke-width="1.5" stroke-dasharray="5.6,3.6"/>
<path d="M412.3,220.61 L412.8,220.6 L414.4,220.78 L414.4,220.6 L416,220.88 L416,220.6 L417.6,220.47 L417.6,220.6 L419.2,220.76 L419.2,220.6 L420.8,220.72 L420.8,220.6 L422.4,220.7 L422.4,220.6 L424,220.37 L424,220.6 L425.6,220.32 L425.6,220.6 L427.2,220.53 L427.2,220.6 L428.8,220.75 L428.8,220.6 L430.4,220.45 L430.4,220.6 L432,220.6 L432,220.6 L433.6,220.49 L433.6,220.6 L435.2,220.81 L435.2,220.6 L436.8,220.87 L436.8,220.6 L438.4,220.54 L438.4,220.6 L440,220.9 L440,220.6 L441.6,220.34 L441.6,220.6 L443.2,220.79 L443.2,220.6 L444.8,220.83 L444.8,220.6 L446.4,220.39 L446.4,220.6 L448,220.72 L448,220.6 L449.6,220.64 L449.6,220.6 L451.2,220.84 L451.2,220.47 L452.8,220.27 L452.8,220.41 L452.8,220.38 L454.4,220.37 L454.4,220.29 L456,220.49 L456,220.19 L457.6,220.25 L457.6,220.1 L459.2,219.92 L459.2,219.96 L459.2,219.89 L460.8,219.57 L460.8,219.75 L460.8,219.68 L462.4,219.87 L462.4,219.47 L464,219.38 L464,219.2 L465.6,219.4 L465.6,218.9 L467.2,218.58 L467.2,218.7 L467.2,218.5 L468.8,218.59 L468.8,218.2 L470.4,218.29 L470.4,217.99 L472,218.19 L472,217.83 L473.6,217.49 L473.6,217.72 L473.6,217.67 L475.2,217.54 L475.2,217.56 L475.2,217.51 L476.8,217.18 L476.8,217.4 L476.8,217.35 L478.4,217.46 L478.4,217.22 L480,217.08 L480,217.12 L480,217.08 L481.6,217.31 L481.6,216.89 L483.2,216.77 L483.2,216.96 L484.8,217.29 L484.8,217.29 L484.8,217.45 L486.4,217.83 L486.4,217.78 L486.4,217.94 L488,217.94 L488,218.24 L489.6,218.34 L489.6,218.45 L491.2,218.79 L491.2,218.59 L491.2,218.66 L492.8,218.75 L492.8,218.8 L492.8,218.65 L494.4,218.42 L494.4,218.2 L496,217.92 L496,217.92 L496,217.79 L497.6,217.82 L497.6,217.38 L499.2,217.05 L499.2,217.1 L499.2,216.8 L500.8,216.56 L500.8,215.9 L502.4,215.63 L502.4,214.79 L504,214.56 L504,214.01 L505.6,213.53 L505.6,212.7 L507.2,212.4 L507.2,211.1 L508.8,210.95 L508.8,208.46 L510.4,207.87 L510.4,205.1 L512,204.47 L512,198.73 L513.6,198.46 L513.6,191.6 L515.2,191.15 L515.2,186.24 L516.8,185.62 L516.8,181.36 L518.4,180.57 L518.4,172.6 L520,172.23 L520,162.2 L521.6,161.59 L521.6,155 L523.2,155.38 L523.2,153.44 L524.8,152.82 L524.8,147.95 L526.4,147.53 L526.4,141.9 L528,141.54 L528,139.9 L528,141.74 L529.6,142.09 L529.6,138 L531.2,137.25 L531.2,134.18 L532.8,134.03 L532.8,133.3 L534.4,133.55 L534.4,125.6 L534.4,126.6 L536,126.81 L536,132.2 L536,130.55 L537.6,130.04 L537.6,127.8 L537.6,132.45 L539.2,133.07 L539.2,147.4 L540.8,147.84 L540.8,152.1 L542.4,152.71 L542.4,155.5 L544,156.28 L544,162.64 L545.6,163.21 L545.6,173.2 L547.2,173.63 L547.2,181.21 L548.8,181.53 L548.8,186.79 L550.4,187.15 L550.4,193.23 L552,193.55 L552,199 L553.6,199.27 L553.6,204 L555.2,204.33 L555.2,210.77 L556.8,211.51 L556.8,210.32 L558.4,210.02 L558.4,214 L560,214.63 L560,216.25 L561.6,216.95 L561.6,216.8 L561.6,216.9 L563.2,217.19 L563.2,217.1 L563.2,217.2 L564.8,217.03 L564.8,217.65 L566.4,218.08 L566.4,218 L566.4,218.18 L568,218.11 L568,218.86 L569.6,219.19 L569.6,219.19 L569.6,219.35 L571.2,219.72 L571.2,219.68 L571.2,219.84 L572.8,220.09 L572.8,220.07 L572.8,220.14 L574.4,220.15 L574.4,220.35 L576,220.17 L576,220.56 L577.6,220.38 L577.6,220.7 L577.6,220.7 L579.2,220.78 L579.2,220.69 L580.8,220.54 L580.8,220.69 L580.8,220.69 L582.4,220.71 L582.4,220.69 L584,220.55 L584,220.69 L584,220.68 L585.6,220.48 L585.6,220.68 L585.6,220.68 L587.2,220.55 L587.2,220.68 L587.2,220.67 L588.8,220.81 L588.8,220.67 L590.4,220.66 L590.4,220.67 L590.4,220.67 L592,220.6 L592,220.66 L592,220.66 L593.6,220.65 L593.6,220.66 L593.6,220.66 L595.2,220.69 L595.2,220.66 L596.8,220.66 L596.8,220.65 L598.4,220.62 L598.4,220.65 L598.4,220.65 L600,220.93 L600,220.64 L601.6,220.79 L601.6,220.64 L603.2,220.47 L603.2,220.64 L603.2,220.63 L604.8,220.52 L604.8,220.63 L604.8,220.63 L606.4,220.44 L606.4,220.63 L606.4,220.63 L608,220.54 L608,220.62 L608,220.62 L609.6,220.34 L609.6,220.62 L609.6,220.62 L611.2,220.77 L611.2,220.61 L612.8,220.65 L612.8,220.61 L614.4,220.56 L614.4,220.61 L614.4,220.61 L616,220.84 L616,220.6 L617.6,220.5 L617.6,220.6 L618,220.6" fill="none" stroke="#111" stroke-width="1.5"/>
<rect x="513.8" y="34.3" width="19.5" height="15" fill="#8466a8" stroke="#150d20" stroke-width="1.25"/>
<rect x="513.9" y="61.4" width="19.4" height="15.3" fill="#fff" stroke="#222" stroke-width="1.3"/>
<line x1="514" y1="92.2" x2="530.5" y2="92.2" stroke="#111" stroke-width="1.3" stroke-dasharray="7,3"/>
<text transform="translate(537.22,44.3) scale(1.0021,1)" font-size="15.3" fill="#111" stroke="#111" stroke-width="0.25" >: Control</text>
<text transform="translate(537.22,70.8) scale(1.0003,1)" font-size="15.3" fill="#111" stroke="#111" stroke-width="0.25" >: TRITC-FA-M-<tspan font-family="Liberation Serif">β</tspan>-CyD</text>
<text transform="translate(537.22,97.1) scale(1.0017,1)" font-size="15.3" fill="#111" stroke="#111" stroke-width="0.25" >: With 4 mM FA</text>
<text transform="translate(369.9,156.59) rotate(-90) scale(0.9551,1)" font-size="10.3" fill="#222" stroke="#222" stroke-width="0.25">Counts</text>
<text transform="translate(464.4,256.9) scale(0.9881,1)" font-size="10.1" fill="#222" stroke="#222" stroke-width="0.25" >Fluorescence intensity</text>
<text transform="translate(18.22,316.7) scale(1.0407,1)" font-size="18.9" fill="#111" stroke="#111" stroke-width="0.25" >(C) FR-<tspan font-family="Liberation Serif">α</tspan>-knockdown KB cells</text>
<path d="M55.7,516.3 L55.5,515 L57,514.73 L57,512.2 L58.5,511.76 L58.5,510.4 L60,509.96 L60,508.5 L61.5,508.43 L61.5,508.5 L63,508.6 L63,508 L63,508.5 L64.5,508.85 L64.5,509.5 L64.5,509.25 L66,508.88 L66,509 L66,508.75 L67.5,508.33 L67.5,508.25 L69,507.83 L69,507.08 L70.5,506.54 L70.5,505.82 L72,505.24 L72,504.5 L73.5,503.93 L73.5,497.14 L75,496.51 L75,490.98 L76.5,490.33 L76.5,483.2 L78,482.75 L78,477.05 L79.5,476.32 L79.5,463.53 L81,462.7 L81,453.88 L82.5,453.23 L82.5,450.33 L84,449.83 L84,442.33 L85.5,441.72 L85.5,439.63 L87,439.36 L87,431.1 L88.5,430.78 L88.5,425.3 L90,424.7 L90,419.42 L91.5,418.62 L91.5,417.14 L93,416.86 L93,416.2 L93,416.74 L94.5,417.46 L94.5,424.7 L96,424.13 L96,422.1 L96,422.6 L97.5,423.21 L97.5,428.46 L99,428.86 L99,444 L100.5,444.82 L100.5,448.77 L102,449.55 L102,455.15 L103.5,455.88 L103.5,464.65 L105,465.48 L105,474.44 L106.5,474.76 L106.5,484.22 L108,484.77 L108,490.44 L109.5,491.11 L109.5,494.57 L111,495.31 L111,499.76 L112.5,500.2 L112.5,503.37 L114,503.63 L114,505.73 L115.5,506.26 L115.5,507.9 L117,508.02 L117,509.1 L118.5,509.64 L118.5,510.05 L120,509.98 L120,510.7 L121.5,510.77 L121.5,511 L123,511.09 L123,511.38 L124.5,511.25 L124.5,511.79 L126,511.91 L126,512.06 L127.5,512.2 L127.5,512.18 L129,512.07 L129,512.15 L129,512.14 L130.5,512.4 L130.5,512.1 L132,512.34 L132,512.06 L133.5,512.32 L133.5,512.02 L135,511.83 L135,512 L135,511.93 L136.5,511.53 L136.5,511.79 L136.5,511.71 L138,511.56 L138,511.57 L138,511.5 L139.5,511.16 L139.5,511.36 L139.5,511.29 L141,511.36 L141,511.07 L142.5,510.83 L142.5,511.17 L144,510.99 L144,511.42 L145.5,511.35 L145.5,511.67 L147,511.68 L147,511.92 L148.5,512.16 L148.5,511.55 L150,511.29 L150,510.64 L151.5,510.27 L151.5,509.95 L153,509.85 L153,509.5 L153,509.7 L154.5,509.58 L154.5,510.3 L156,510.3 L156,510.9 L157.5,511.23 L157.5,511.5 L159,511.55 L159,511.12 L160.5,510.72 L160.5,510.88 L160.5,510.75 L162,510.32 L162,510.69 L163.5,510.88 L163.5,511.25 L165,511.55 L165,511.81 L166.5,511.66 L166.5,511.96 L166.5,511.92 L168,511.83 L168,511.83 L168,511.79 L169.5,511.59 L169.5,511.71 L169.5,511.67 L171,511.33 L171,511.58 L171,511.54 L172.5,511.27 L172.5,511.62 L174,511.54 L174,511.81 L175.5,511.85 L175.5,512 L177,511.79 L177,512.19 L178.5,512.33 L178.5,512.31 L178.5,512.38 L180,512.7 L180,512.5 L180,512.52 L181.5,512.68 L181.5,512.58 L181.5,512.6 L183,512.32 L183,512.67 L184.5,512.8 L184.5,512.73 L184.5,512.75 L186,512.87 L186,512.8 L186,512.83 L187.5,512.51 L187.5,512.9 L189,512.84 L189,512.98 L190.5,513.11 L190.5,513.02 L190.5,513.05 L192,513.39 L192,513.1 L192,513.12 L193.5,513.45 L193.5,513.17 L193.5,513.2 L195,513.27 L195,513.25 L195,513.27 L196.5,513.36 L196.5,513.33 L196.5,513.35 L198,513.7 L198,513.4 L198,513.42 L199.5,513.25 L199.5,513.5 L201,513.54 L201,513.6 L202.5,513.33 L202.5,513.7 L204,513.93 L204,513.77 L204,513.8 L205.5,513.94 L205.5,513.87 L205.5,513.9 L207,513.73 L207,514 L208.5,513.82 L208.5,514.1 L210,514.15 L210,514.2 L211.5,514.41 L211.5,514.27 L211.5,514.3 L213,514.08 L213,514.4 L214.5,514.31 L214.5,514.5 L216,514.54 L216,514.58 L217.5,514.44 L217.5,514.66 L219,514.96 L219,514.71 L219,514.74 L220.5,514.92 L220.5,514.79 L220.5,514.82 L222,515.17 L222,514.87 L222,514.9 L223.5,515.03 L223.5,514.95 L223.5,514.98 L225,515.13 L225,515.03 L225,515.06 L226.5,514.94 L226.5,515.14 L228,515.17 L228,515.22 L229.5,515.2 L229.5,515.3 L231,515.29 L231,515.32 L232.5,515.02 L232.5,515.34 L234,515.6 L234,515.36 L234,515.37 L235.5,515.13 L235.5,515.39 L237,515.37 L237,515.41 L238.5,515.72 L238.5,515.42 L238.5,515.43 L240,515.45 L240,515.45 L240,515.45 L241.5,515.72 L241.5,515.47 L241.5,515.48 L243,515.32 L243,515.5 L244.5,515.48 L244.5,515.52 L246,515.44 L246,515.54 L247.5,515.43 L247.5,515.56 L249,515.48 L249,515.59 L250.5,515.56 L250.5,515.61 L252,515.86 L252,515.62 L252,515.63 L253.5,515.97 L253.5,515.65 L253.5,515.65 L255,515.38 L255,515.67 L256.5,515.8 L256.5,515.69 L256.5,515.7 L258,515.72 L258,515.71 L258,515.72 L259.5,515.67 L259.5,515.74 L261,515.43 L261,515.76 L262.5,515.67 L262.5,515.79 L264,515.66 L264,516.3 L264,516.3 L55.7,516.3 Z" fill="#b3a3cb" stroke="none"/>
<line x1="55.2" y1="350.1" x2="55.2" y2="516.8" stroke="#777" stroke-width="1.0"/>
<line x1="50.2" y1="516.3" x2="55.2" y2="516.3" stroke="#666" stroke-width="1.0"/>
<text transform="translate(37.77,521.22) scale(1.0000,1)" font-size="11.6" fill="#222" stroke="#222" stroke-width="0.25" >0</text>
<line x1="52.2" y1="510.02" x2="55.2" y2="510.02" stroke="#666" stroke-width="1.0"/>
<line x1="52.2" y1="503.75" x2="55.2" y2="503.75" stroke="#666" stroke-width="1.0"/>
<line x1="52.2" y1="497.47" x2="55.2" y2="497.47" stroke="#666" stroke-width="1.0"/>
<line x1="52.2" y1="491.2" x2="55.2" y2="491.2" stroke="#666" stroke-width="1.0"/>
<line x1="50.2" y1="484.92" x2="55.2" y2="484.92" stroke="#666" stroke-width="1.0"/>
<text transform="translate(31.39,489.04) scale(1.0000,1)" font-size="11.6" fill="#222" stroke="#222" stroke-width="0.25" >30</text>
<line x1="52.2" y1="478.64" x2="55.2" y2="478.64" stroke="#666" stroke-width="1.0"/>
<line x1="52.2" y1="472.37" x2="55.2" y2="472.37" stroke="#666" stroke-width="1.0"/>
<line x1="52.2" y1="466.09" x2="55.2" y2="466.09" stroke="#666" stroke-width="1.0"/>
<line x1="52.2" y1="459.82" x2="55.2" y2="459.82" stroke="#666" stroke-width="1.0"/>
<line x1="50.2" y1="453.54" x2="55.2" y2="453.54" stroke="#666" stroke-width="1.0"/>
<text transform="translate(31.39,459.06) scale(1.0000,1)" font-size="11.6" fill="#222" stroke="#222" stroke-width="0.25" >60</text>
<line x1="52.2" y1="447.26" x2="55.2" y2="447.26" stroke="#666" stroke-width="1.0"/>
<line x1="52.2" y1="440.99" x2="55.2" y2="440.99" stroke="#666" stroke-width="1.0"/>
<line x1="52.2" y1="434.71" x2="55.2" y2="434.71" stroke="#666" stroke-width="1.0"/>
<line x1="52.2" y1="428.44" x2="55.2" y2="428.44" stroke="#666" stroke-width="1.0"/>
<line x1="50.2" y1="422.16" x2="55.2" y2="422.16" stroke="#666" stroke-width="1.0"/>
<text transform="translate(31.39,426.28) scale(1.0000,1)" font-size="11.6" fill="#222" stroke="#222" stroke-width="0.25" >90</text>
<line x1="52.2" y1="415.88" x2="55.2" y2="415.88" stroke="#666" stroke-width="1.0"/>
<line x1="52.2" y1="409.61" x2="55.2" y2="409.61" stroke="#666" stroke-width="1.0"/>
<line x1="52.2" y1="403.33" x2="55.2" y2="403.33" stroke="#666" stroke-width="1.0"/>
<line x1="52.2" y1="397.06" x2="55.2" y2="397.06" stroke="#666" stroke-width="1.0"/>
<line x1="50.2" y1="390.78" x2="55.2" y2="390.78" stroke="#666" stroke-width="1.0"/>
<polygon points="27.98,394.5 29.04,394.5 29.04,386.19 28.26,386.19 27.68,386.78 26.86,387.36 25.88,387.83 25.88,388.87 26.86,388.47 27.98,387.77" fill="#222"/><text transform="translate(31.34,394.5) scale(1.0000,1)" font-size="11.6" fill="#222" stroke="#222" stroke-width="0.25">2</text><text transform="translate(37.79,394.5) scale(1.0000,1)" font-size="11.6" fill="#222" stroke="#222" stroke-width="0.25">0</text>
<line x1="52.2" y1="384.5" x2="55.2" y2="384.5" stroke="#666" stroke-width="1.0"/>
<line x1="52.2" y1="378.23" x2="55.2" y2="378.23" stroke="#666" stroke-width="1.0"/>
<line x1="52.2" y1="371.95" x2="55.2" y2="371.95" stroke="#666" stroke-width="1.0"/>
<line x1="52.2" y1="365.68" x2="55.2" y2="365.68" stroke="#666" stroke-width="1.0"/>
<line x1="50.2" y1="359.4" x2="55.2" y2="359.4" stroke="#666" stroke-width="1.0"/>
<polygon points="27.98,363.52 29.04,363.52 29.04,355.21 28.26,355.21 27.68,355.8 26.86,356.38 25.88,356.85 25.88,357.89 26.86,357.49 27.98,356.79" fill="#222"/><text transform="translate(31.34,363.52) scale(1.0000,1)" font-size="11.6" fill="#222" stroke="#222" stroke-width="0.25">5</text><text transform="translate(37.79,363.52) scale(1.0000,1)" font-size="11.6" fill="#222" stroke="#222" stroke-width="0.25">0</text>
<line x1="54.7" y1="516.1" x2="265" y2="516.1" stroke="#777" stroke-width="1.0"/>
<line x1="56.5" y1="516.1" x2="56.5" y2="522.6" stroke="#888" stroke-width="1"/>
<polygon points="53.84,535.7 54.9,535.7 54.9,527.11 54.12,527.11 53.54,527.72 52.73,528.32 51.76,528.8 51.76,529.88 52.73,529.46 53.84,528.74" fill="#222"/><text transform="translate(57.18,535.7) scale(0.9600,1)" font-size="12" fill="#222" stroke="#222" stroke-width="0.25">0</text>
<text transform="translate(63.69,532.6) scale(0.9600,1)" font-size="8.2" fill="#222" stroke="#222" stroke-width="0.25" >0</text>
<line x1="71.97" y1="516.1" x2="71.97" y2="520.6" stroke="#888" stroke-width="1"/>
<line x1="81.02" y1="516.1" x2="81.02" y2="520.6" stroke="#888" stroke-width="1"/>
<line x1="87.45" y1="516.1" x2="87.45" y2="520.6" stroke="#888" stroke-width="1"/>
<line x1="92.43" y1="516.1" x2="92.43" y2="520.6" stroke="#888" stroke-width="1"/>
<line x1="96.5" y1="516.1" x2="96.5" y2="520.6" stroke="#888" stroke-width="1"/>
<line x1="99.94" y1="516.1" x2="99.94" y2="520.6" stroke="#888" stroke-width="1"/>
<line x1="102.92" y1="516.1" x2="102.92" y2="520.6" stroke="#888" stroke-width="1"/>
<line x1="105.55" y1="516.1" x2="105.55" y2="520.6" stroke="#888" stroke-width="1"/>
<line x1="107.9" y1="516.1" x2="107.9" y2="522.6" stroke="#888" stroke-width="1"/>
<polygon points="105.24,535.7 106.3,535.7 106.3,527.11 105.52,527.11 104.94,527.72 104.13,528.32 103.16,528.8 103.16,529.88 104.13,529.46 105.24,528.74" fill="#222"/><text transform="translate(108.58,535.7) scale(0.9600,1)" font-size="12" fill="#222" stroke="#222" stroke-width="0.25">0</text>
<polygon points="116.87,532.6 117.59,532.6 117.59,526.73 117.06,526.73 116.66,527.15 116.11,527.56 115.44,527.89 115.44,528.63 116.11,528.34 116.87,527.85" fill="#222"/>
<line x1="123.46" y1="516.1" x2="123.46" y2="520.6" stroke="#888" stroke-width="1"/>
<line x1="132.57" y1="516.1" x2="132.57" y2="520.6" stroke="#888" stroke-width="1"/>
<line x1="139.03" y1="516.1" x2="139.03" y2="520.6" stroke="#888" stroke-width="1"/>
<line x1="144.04" y1="516.1" x2="144.04" y2="520.6" stroke="#888" stroke-width="1"/>
<line x1="148.13" y1="516.1" x2="148.13" y2="520.6" stroke="#888" stroke-width="1"/>
<line x1="151.59" y1="516.1" x2="151.59" y2="520.6" stroke="#888" stroke-width="1"/>
<line x1="154.59" y1="516.1" x2="154.59" y2="520.6" stroke="#888" stroke-width="1"/>
<line x1="157.23" y1="516.1" x2="157.23" y2="520.6" stroke="#888" stroke-width="1"/>
<line x1="159.6" y1="516.1" x2="159.6" y2="522.6" stroke="#888" stroke-width="1"/>
<polygon points="156.94,535.7 158,535.7 158,527.11 157.22,527.11 156.64,527.72 155.83,528.32 154.86,528.8 154.86,529.88 155.83,529.46 156.94,528.74" fill="#222"/><text transform="translate(160.28,535.7) scale(0.9600,1)" font-size="12" fill="#222" stroke="#222" stroke-width="0.25">0</text>
<text transform="translate(166.71,532.6) scale(0.9600,1)" font-size="8.2" fill="#222" stroke="#222" stroke-width="0.25" >2</text>
<line x1="175.31" y1="516.1" x2="175.31" y2="520.6" stroke="#888" stroke-width="1"/>
<line x1="184.51" y1="516.1" x2="184.51" y2="520.6" stroke="#888" stroke-width="1"/>
<line x1="191.03" y1="516.1" x2="191.03" y2="520.6" stroke="#888" stroke-width="1"/>
<line x1="196.09" y1="516.1" x2="196.09" y2="520.6" stroke="#888" stroke-width="1"/>
<line x1="200.22" y1="516.1" x2="200.22" y2="520.6" stroke="#888" stroke-width="1"/>
<line x1="203.71" y1="516.1" x2="203.71" y2="520.6" stroke="#888" stroke-width="1"/>
<line x1="206.74" y1="516.1" x2="206.74" y2="520.6" stroke="#888" stroke-width="1"/>
<line x1="209.41" y1="516.1" x2="209.41" y2="520.6" stroke="#888" stroke-width="1"/>
<line x1="211.8" y1="516.1" x2="211.8" y2="522.6" stroke="#888" stroke-width="1"/>
<polygon points="209.14,535.7 210.2,535.7 210.2,527.11 209.42,527.11 208.84,527.72 208.03,528.32 207.06,528.8 207.06,529.88 208.03,529.46 209.14,528.74" fill="#222"/><text transform="translate(212.48,535.7) scale(0.9600,1)" font-size="12" fill="#222" stroke="#222" stroke-width="0.25">0</text>
<text transform="translate(218.99,532.6) scale(0.9600,1)" font-size="8.2" fill="#222" stroke="#222" stroke-width="0.25" >3</text>
<line x1="227.36" y1="516.1" x2="227.36" y2="520.6" stroke="#888" stroke-width="1"/>
<line x1="236.47" y1="516.1" x2="236.47" y2="520.6" stroke="#888" stroke-width="1"/>
<line x1="242.93" y1="516.1" x2="242.93" y2="520.6" stroke="#888" stroke-width="1"/>
<line x1="247.94" y1="516.1" x2="247.94" y2="520.6" stroke="#888" stroke-width="1"/>
<line x1="252.03" y1="516.1" x2="252.03" y2="520.6" stroke="#888" stroke-width="1"/>
<line x1="255.49" y1="516.1" x2="255.49" y2="520.6" stroke="#888" stroke-width="1"/>
<line x1="258.49" y1="516.1" x2="258.49" y2="520.6" stroke="#888" stroke-width="1"/>
<line x1="261.13" y1="516.1" x2="261.13" y2="520.6" stroke="#888" stroke-width="1"/>
<line x1="263.5" y1="516.1" x2="263.5" y2="522.6" stroke="#888" stroke-width="1"/>
<polygon points="260.84,535.7 261.9,535.7 261.9,527.11 261.12,527.11 260.54,527.72 259.73,528.32 258.76,528.8 258.76,529.88 259.73,529.46 260.84,528.74" fill="#222"/><text transform="translate(264.18,535.7) scale(0.9600,1)" font-size="12" fill="#222" stroke="#222" stroke-width="0.25">0</text>
<text transform="translate(270.84,532.6) scale(0.9600,1)" font-size="8.2" fill="#222" stroke="#222" stroke-width="0.25" >4</text>
<path d="M56.5,515.85 L57,515.6 L58.5,515.87 L58.5,515.6 L60,515.84 L60,515.6 L61.5,515.35 L61.5,515.6 L63,515.66 L63,515.6 L64.5,515.55 L64.5,515.6 L66,515.62 L66,515.6 L67.5,515.38 L67.5,515.6 L69,515.42 L69,515.6 L70.5,515.57 L70.5,515.6 L72,515.43 L72,515.6 L73.5,515.57 L73.5,515.6 L75,515.31 L75,515.6 L76.5,515.35 L76.5,515.6 L78,515.73 L78,515.6 L79.5,515.55 L79.5,515.6 L81,515.61 L81,515.6 L82.5,515.74 L82.5,515.6 L84,515.52 L84,515.6 L85.5,515.33 L85.5,515.6 L87,515.77 L87,515.6 L88.5,515.65 L88.5,515.6 L90,515.69 L90,515.6 L91.5,515.67 L91.5,515.6 L93,515.88 L93,515.6 L94.5,515.52 L94.5,515.6 L96,515.76 L96,515.6 L97.5,515.52 L97.5,515.6 L99,515.64 L99,515.6 L100.5,515.7 L100.5,515.6 L102,515.49 L102,515.6 L103.5,515.35 L103.5,515.6 L105,515.58 L105,515.6 L106.5,515.47 L106.5,514.82 L108,514.61 L108,514.06 L109.5,513.78 L109.5,513.32 L111,513.16 L111,512.59 L112.5,512.15 L112.5,511.96 L114,511.62 L114,511.67 L114,511.52 L115.5,511.27 L115.5,511.09 L117,511.13 L117,510.71 L118.5,510.44 L118.5,510.54 L118.5,510.45 L120,510.13 L120,510.28 L120,510.19 L121.5,509.86 L121.5,510.1 L123,509.82 L123,510.1 L124.5,509.97 L124.5,510.1 L126,510.14 L126,510 L127.5,510.14 L127.5,509.9 L129,509.75 L129,509.8 L129,509.75 L130.5,509.62 L130.5,508.26 L132,507.65 L132,505.8 L133.5,505.18 L133.5,501.87 L135,501.56 L135,498.07 L136.5,497.66 L136.5,494.85 L138,494.18 L138,488.15 L139.5,487.43 L139.5,482.33 L141,482.02 L141,475.97 L142.5,475.57 L142.5,470.32 L144,470.04 L144,464.96 L145.5,464.28 L145.5,453 L147,452.53 L147,439.3 L148.5,439.05 L148.5,423.64 L150,423.16 L150,409.3 L151.5,409.07 L151.5,405.8 L153,405.6 L153,398.2 L153,405.8 L154.5,406.09 L154.5,405.8 L156,405.53 L156,398.2 L156,405.8 L157.5,405.75 L157.5,405.8 L159,405.51 L159,407.3 L160.5,407.99 L160.5,418.25 L162,418.81 L162,432 L163.5,432.73 L163.5,448.8 L165,449.48 L165,454.74 L166.5,455.5 L166.5,463.2 L168,463.72 L168,472.32 L169.5,473.13 L169.5,482.27 L171,482.94 L171,493.65 L172.5,494.05 L172.5,499.54 L174,500.31 L174,503.43 L175.5,503.84 L175.5,505.66 L177,505.9 L177,507.76 L178.5,507.93 L178.5,508.67 L180,508.72 L180,508.88 L181.5,508.76 L181.5,509.08 L183,509.41 L183,509.22 L183,509.29 L184.5,509.63 L184.5,509.43 L184.5,509.5 L186,509.53 L186,509.9 L187.5,509.86 L187.5,510.5 L189,510.72 L189,511.1 L190.5,511.09 L190.5,511.67 L192,511.88 L192,512.42 L193.5,512.8 L193.5,512.87 L195,512.79 L195,513.08 L196.5,513.1 L196.5,513.22 L198,513.53 L198,513.35 L198,513.42 L199.5,513.46 L199.5,513.63 L201,513.61 L201,513.7 L202.5,513.94 L202.5,513.7 L204,513.89 L204,513.7 L205.5,513.94 L205.5,513.7 L205.5,513.89 L207,514.19 L207,514.46 L208.5,514.59 L208.5,515.21 L210,515.52 L210,514.83 L211.5,514.75 L211.5,513.98 L213,513.78 L213,512.85 L214.5,512.41 L214.5,512 L216,512.15 L216,513.11 L217.5,513.33 L217.5,513.94 L219,514.39 L219,514.5 L219,514.37 L220.5,514.27 L220.5,513.98 L222,513.88 L222,513.58 L223.5,513.65 L223.5,513.19 L225,512.83 L225,512.93 L225,512.8 L226.5,512.45 L226.5,511.52 L228,511 L228,513.53 L229.5,514.05 L229.5,514.58 L231,514.82 L231,514.65 L231,514.69 L232.5,514.58 L232.5,514.77 L234,515.08 L234,514.84 L234,514.88 L235.5,514.67 L235.5,515 L237,515.07 L237,515.11 L238.5,515.17 L238.5,515.22 L240,515.1 L240,515.3 L241.5,515.34 L241.5,515.31 L241.5,515.32 L243,515.3 L243,515.33 L244.5,515.3 L244.5,515.34 L246,515.48 L246,515.35 L246,515.35 L247.5,515.06 L247.5,515.37 L249,515.3 L249,515.38 L250.5,515.55 L250.5,515.39 L250.5,515.39 L252,515.18 L252,515.4 L253.5,515.63 L253.5,515.41 L253.5,515.42 L255,515.24 L255,515.43 L256.5,515.54 L256.5,515.44 L256.5,515.44 L258,515.25 L258,515.45 L259.5,515.43 L259.5,515.47 L261,515.42 L261,515.48 L262.5,515.23 L262.5,515.49 L264,515.62 L264,515.5" fill="none" stroke="#111" stroke-width="1.25" stroke-dasharray="3.6,2.2"/>
<path d="M56.5,515.83 L57,515.8 L58.5,515.71 L58.5,515.8 L60,516.01 L60,515.8 L61.5,515.67 L61.5,515.8 L63,515.81 L63,515.8 L64.5,515.71 L64.5,515.8 L66,515.75 L66,515.8 L67.5,516.08 L67.5,515.8 L69,515.56 L69,515.8 L70.5,515.77 L70.5,515.8 L72,515.63 L72,515.8 L73.5,515.71 L73.5,515.8 L75,516.1 L75,515.8 L76.5,515.7 L76.5,515.8 L78,515.86 L78,515.8 L79.5,515.75 L79.5,515.8 L81,515.94 L81,515.8 L82.5,515.77 L82.5,515.8 L84,515.6 L84,515.8 L85.5,515.76 L85.5,515.8 L87,515.74 L87,515.8 L88.5,515.98 L88.5,515.8 L90,515.84 L90,515.8 L91.5,515.62 L91.5,515.8 L93,515.9 L93,515.8 L94.5,515.68 L94.5,515.8 L96,515.81 L96,515.8 L97.5,515.63 L97.5,515.8 L99,515.75 L99,515.8 L100.5,515.97 L100.5,515.8 L102,515.81 L102,515.8 L103.5,515.95 L103.5,515.8 L105,515.95 L105,515.77 L106.5,515.79 L106.5,515.67 L108,515.72 L108,515.34 L109.5,515.02 L109.5,514.57 L111,514.39 L111,513.8 L112.5,513.82 L112.5,513.37 L114,512.98 L114,513.08 L114,512.93 L115.5,513.05 L115.5,512.5 L117,512.47 L117,512.65 L118.5,512.48 L118.5,512.8 L120,512.64 L120,512.9 L121.5,512.85 L121.5,513 L123,512.74 L123,513 L124.5,512.94 L124.5,513 L126,512.95 L126,512.51 L127.5,512.36 L127.5,511.78 L129,511.51 L129,511.04 L130.5,511.06 L130.5,510.8 L132,510.9 L132,510.8 L133.5,511.03 L133.5,511.82 L135,512.38 L135,512.5 L135,512.34 L136.5,512.29 L136.5,511.85 L138,511.97 L138,511.36 L139.5,511.34 L139.5,510.65 L141,510.65 L141,509.55 L142.5,509.1 L142.5,509 L142.5,509.3 L144,509.47 L144,510.2 L145.5,510.78 L145.5,511.32 L147,511.29 L147,512.1 L147,511.62 L148.5,511.39 L148.5,507.78 L150,507.55 L150,501.8 L151.5,501.08 L151.5,499.43 L153,498.79 L153,496.75 L154.5,496.55 L154.5,493.6 L156,493.43 L156,487.97 L157.5,487.67 L157.5,479.97 L159,479.61 L159,475.45 L160.5,475.09 L160.5,467.58 L162,466.94 L162,457.16 L163.5,456.34 L163.5,448.31 L165,447.87 L165,441.5 L166.5,441.2 L166.5,433.83 L168,433.67 L168,433.03 L169.5,432.86 L169.5,432.67 L171,432.19 L171,432.3 L171,425.3 L172.5,424.6 L172.5,412.29 L174,411.78 L174,409.02 L175.5,408.42 L175.5,400.8 L177,400.98 L177,404.5 L178.5,404.82 L178.5,423.5 L180,424 L180,433.59 L181.5,433.87 L181.5,442.24 L183,442.52 L183,451.36 L184.5,451.66 L184.5,459.9 L186,460.12 L186,467.94 L187.5,468.62 L187.5,478.55 L189,479.27 L189,489.1 L190.5,489.42 L190.5,495.56 L192,496.14 L192,500.51 L193.5,501.23 L193.5,503.78 L195,504.09 L195,506.52 L196.5,506.84 L196.5,508.2 L198,508.85 L198,510.3 L199.5,510.73 L199.5,511.13 L201,511.48 L201,511.97 L202.5,512.42 L202.5,512.8 L204,512.99 L204,513.22 L205.5,513.26 L205.5,513.65 L207,513.9 L207,514.08 L208.5,514.39 L208.5,514.36 L208.5,514.5 L210,514.15 L210,514.34 L210,514.26 L211.5,514.07 L211.5,514.1 L211.5,514.02 L213,513.82 L213,513.86 L213,513.78 L214.5,513.93 L214.5,513.78 L214.5,513.86 L216,513.81 L216,514.1 L217.5,514.28 L217.5,514.26 L217.5,514.34 L219,514.38 L219,514.56 L220.5,514.54 L220.5,514.73 L222,514.78 L222,514.89 L223.5,515.19 L223.5,515.01 L225,515.16 L225,515.12 L225,515.17 L226.5,515.16 L226.5,515.34 L228,515.19 L228,515.41 L229.5,515.31 L229.5,515.41 L231,515.4 L231,515.42 L232.5,515.51 L232.5,515.43 L232.5,515.43 L234,515.73 L234,515.44 L234,515.44 L235.5,515.34 L235.5,515.45 L237,515.71 L237,515.45 L237,515.45 L238.5,515.7 L238.5,515.46 L238.5,515.46 L240,515.43 L240,515.47 L241.5,515.31 L241.5,515.48 L243,515.32 L243,515.49 L244.5,515.74 L244.5,515.49 L244.5,515.5 L246,515.3 L246,515.5 L247.5,515.6 L247.5,515.51 L247.5,515.51 L249,515.61 L249,515.52 L249,515.52 L250.5,515.32 L250.5,515.53 L252,515.25 L252,515.54 L253.5,515.62 L253.5,515.54 L253.5,515.55 L255,515.28 L255,515.55 L256.5,515.59 L256.5,515.56 L256.5,515.56 L258,515.85 L258,515.57 L258,515.57 L259.5,515.55 L259.5,515.58 L261,515.47 L261,515.59 L262.5,515.35 L262.5,515.59 L264,515.48 L264,515.6" fill="none" stroke="#111" stroke-width="1.25"/>
<rect x="151.1" y="332" width="19.6" height="15.3" fill="#8466a8" stroke="#150d20" stroke-width="1.25"/>
<rect x="151.1" y="354.8" width="19.6" height="14.3" fill="#fff" stroke="#444" stroke-width="1.3"/>
<line x1="151.9" y1="384.6" x2="166.8" y2="384.6" stroke="#111" stroke-width="1.3" stroke-dasharray="5.6,3.1"/>
<text transform="translate(174.31,342.3) scale(1.0331,1)" font-size="15" fill="#111" stroke="#111" stroke-width="0.25" >: Control</text>
<text transform="translate(174.27,366.1) scale(1.0615,1)" font-size="15" fill="#111" stroke="#111" stroke-width="0.25" >: FR-<tspan font-family="Liberation Serif">α</tspan> (+)</text>
<text transform="translate(174.3,389.4) scale(1.0360,1)" font-size="15" fill="#111" stroke="#111" stroke-width="0.25" >: FR-<tspan font-family="Liberation Serif">α</tspan> knockdown</text>
<text transform="translate(21.8,452.22) rotate(-90) scale(0.9407,1)" font-size="11.2" font-weight="bold" fill="#222" stroke="#222" stroke-width="0.15">Counts</text>
<text transform="translate(103.47,551.8) scale(0.9260,1)" font-size="11.2" font-weight="bold" fill="#222" stroke="#222" stroke-width="0.15" >Fluorescence intensity</text>
</svg></body></html>
